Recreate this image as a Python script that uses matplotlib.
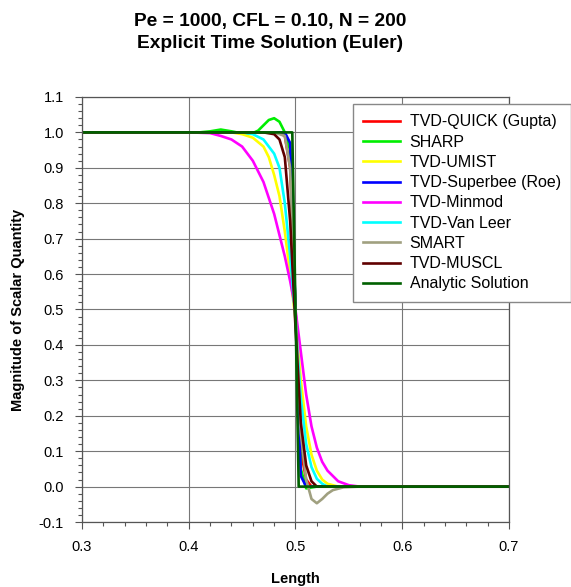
import numpy as np
import matplotlib.pyplot as plt
from matplotlib.ticker import MultipleLocator

plt.rcParams['font.family'] = ['Liberation Sans', 'DejaVu Sans']

# values
quick_x = [0.30, 0.48, 0.485, 0.49, 0.495, 0.50, 0.505, 0.51, 0.515, 0.70]
quick_y = [1.0, 1.0, 0.998, 0.99, 0.90, 0.50, 0.10, 0.02, 0.0, 0.0]

sharp_x = [0.30, 0.40, 0.41, 0.42, 0.43, 0.44, 0.45, 0.46, 0.465, 0.47, 0.475, 0.48,
           0.485, 0.49, 0.495, 0.50, 0.505, 0.51, 0.52, 0.70]
sharp_y = [1.0, 1.0, 1.0, 1.003, 1.008, 1.003, 0.997, 0.998, 1.005, 1.02, 1.035, 1.04,
           1.03, 1.0, 0.95, 0.50, 0.05, -0.005, 0.0, 0.0]

umist_x = [0.30, 0.44, 0.45, 0.46, 0.47, 0.475, 0.48, 0.485, 0.49, 0.495, 0.50,
           0.505, 0.51, 0.515, 0.52, 0.525, 0.53, 0.54, 0.70]
umist_y = [1.0, 1.0, 0.995, 0.985, 0.96, 0.93, 0.88, 0.82, 0.72, 0.60, 0.47,
           0.30, 0.17, 0.09, 0.045, 0.02, 0.008, 0.0, 0.0]

superbee_x = [0.30, 0.49, 0.495, 0.50, 0.505, 0.51, 0.70]
superbee_y = [1.0, 1.0, 0.97, 0.50, 0.03, 0.0, 0.0]

minmod_x = [0.30, 0.40, 0.42, 0.43, 0.44, 0.45, 0.46, 0.47, 0.48, 0.49, 0.495, 0.50,
            0.505, 0.51, 0.515, 0.52, 0.525, 0.53, 0.54, 0.55, 0.56, 0.70]
minmod_y = [1.0, 1.0, 0.998, 0.99, 0.98, 0.96, 0.92, 0.86, 0.77, 0.65, 0.58, 0.50,
            0.38, 0.26, 0.17, 0.11, 0.07, 0.045, 0.015, 0.004, 0.0, 0.0]

vanleer_x = [0.30, 0.45, 0.46, 0.47, 0.48, 0.485, 0.49, 0.495, 0.50, 0.505, 0.51,
             0.515, 0.52, 0.525, 0.53, 0.70]
vanleer_y = [1.0, 1.0, 0.995, 0.98, 0.94, 0.90, 0.80, 0.65, 0.47, 0.25, 0.12,
             0.055, 0.022, 0.008, 0.0, 0.0]

smart_x = [0.30, 0.48, 0.49, 0.495, 0.50, 0.505, 0.51, 0.515, 0.52, 0.525, 0.53,
           0.535, 0.545, 0.56, 0.70]
smart_y = [1.0, 1.0, 0.99, 0.90, 0.50, 0.15, 0.02, -0.035, -0.047, -0.035, -0.02,
           -0.01, -0.002, 0.0, 0.0]

muscl_x = [0.30, 0.47, 0.48, 0.485, 0.49, 0.495, 0.50, 0.505, 0.51, 0.515, 0.52, 0.70]
muscl_y = [1.0, 1.0, 0.995, 0.98, 0.93, 0.75, 0.45, 0.18, 0.06, 0.015, 0.0, 0.0]

exact_x = [0.30, 0.497, 0.503, 0.70]
exact_y = [1.0, 1.0, 0.0, 0.0]

series = [
    ('TVD-QUICK (Gupta)', quick_x, quick_y, '#ff0000'),
    ('SHARP', sharp_x, sharp_y, '#00ee00'),
    ('TVD-UMIST', umist_x, umist_y, '#ffff00'),
    ('TVD-Superbee (Roe)', superbee_x, superbee_y, '#0000ff'),
    ('TVD-Minmod', minmod_x, minmod_y, '#ff00ff'),
    ('TVD-Van Leer', vanleer_x, vanleer_y, '#00ffff'),
    ('SMART', smart_x, smart_y, '#a0a080'),
    ('TVD-MUSCL', muscl_x, muscl_y, '#600000'),
    ('Analytic Solution', exact_x, exact_y, '#006000'),
]

fig = plt.figure(figsize=(5.71, 5.87), dpi=100)
ax = fig.add_axes([0.1436, 0.1107, 0.7478, 0.7241])

for name, xs, ys, c in series:
    ax.plot(xs, ys, color=c, lw=1.9, label=name, solid_joinstyle='round')

ax.set_xlim(0.3, 0.7)
ax.set_ylim(-0.1, 1.1)
ax.xaxis.set_major_locator(MultipleLocator(0.1))
ax.xaxis.set_minor_locator(MultipleLocator(0.02))
ax.yaxis.set_major_locator(MultipleLocator(0.1))
ax.yaxis.set_minor_locator(MultipleLocator(0.02))
ax.xaxis.set_major_formatter(plt.FormatStrFormatter('%.1f'))
ax.yaxis.set_major_formatter(plt.FormatStrFormatter('%.1f'))
ax.tick_params(which='major', length=5, width=0.8, color='#555555', labelsize=10.5, pad=8)
ax.tick_params(which='minor', length=3, width=0.8, color='#555555')
ax.grid(True, which='major', color='#777777', lw=0.8)
for s in ax.spines.values():
    s.set_color('#555555')
    s.set_linewidth(0.9)

ax.set_xlabel('Length', fontsize=10.5, fontweight='bold', labelpad=13)
ax.set_ylabel('Magnitude of Scalar Quantity', fontsize=10.5, fontweight='bold', labelpad=10)

fig.text(0.473, 0.978, 'Pe = 1000, CFL = 0.10, N = 200\nExplicit Time Solution (Euler)',
         ha='center', va='top', fontsize=13.8, fontweight='bold', linespacing=1.4)

leg = ax.legend(loc='upper left', bbox_to_anchor=(0.618, 0.823), bbox_transform=fig.transFigure,
                fontsize=11.5, frameon=True, fancybox=False, shadow=False,
                handlelength=2.3, labelspacing=0.33, borderpad=0.65, handletextpad=0.6,
                borderaxespad=0)
leg.get_frame().set_edgecolor('#888888')
leg.get_frame().set_linewidth(1.0)
leg.get_frame().set_alpha(1)

fig.savefig('out.png', dpi=100)
